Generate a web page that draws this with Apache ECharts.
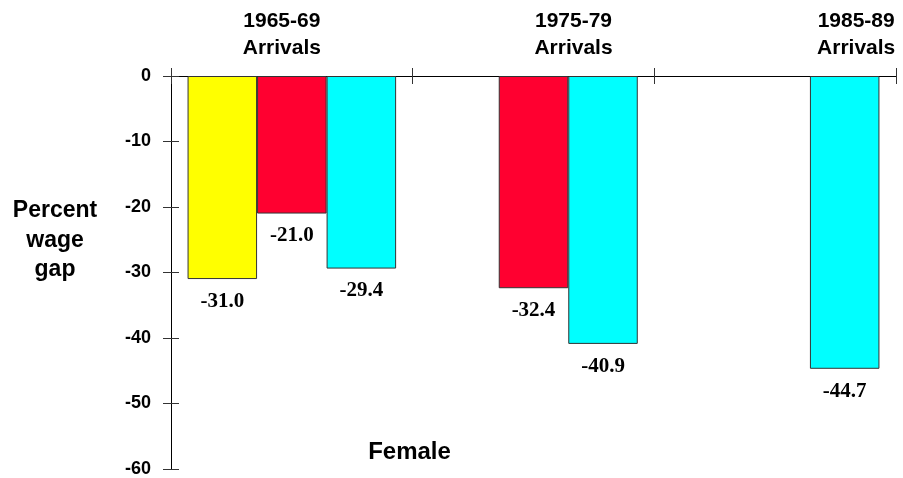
<!DOCTYPE html>
<html>
<head>
<meta charset="utf-8">
<script src="https://cdn.jsdelivr.net/npm/echarts@6/dist/echarts.min.js"></script>
<style>
html,body{margin:0;padding:0;background:#fff;}
#chart{width:903px;height:478px;}
</style>
</head>
<body>
<div id="chart"></div>
<script>
const categories = ['1965-69\nArrivals', '1975-79\nArrivals', '1985-89\nArrivals'];
const seriesNames = ['Series 1', 'Series 2', 'Series 3'];
const yellowValues = [-31.0, null, null];
const redValues = [-21.0, -32.4, null];
const cyanValues = [-29.4, -40.9, -44.7];
const yTicks = [0, -10, -20, -30, -40, -50, -60];
const yAxisTitle = 'Percent\nwage\ngap';
const panelTitle = 'Female';

const colors = ['#FFFF00', '#FF0030', '#00FFFF'];
const sans = 'Liberation Sans, Arial, sans-serif';
const serif = 'Liberation Serif, Times New Roman, serif';
const labelShift = ['r', 'p', 'q'];

const gridRect = {left: 171, right: 7, top: 76, bottom: 9, containLabel: false};

const chart = echarts.init(document.getElementById('chart'), null, {renderer: 'canvas'});

function barSeries(name, data, color) {
  return {
    name: name,
    type: 'bar',
    xAxisIndex: 0,
    yAxisIndex: 0,
    data: data,
    barGap: '0%',
    barCategoryGap: '13.7%',
    itemStyle: {color: color, borderColor: '#333', borderWidth: 1},
    label: {
      show: true,
      position: 'bottom',
      distance: 12,
      fontFamily: serif,
      fontWeight: 'bold',
      fontSize: 21,
      color: '#000',
      formatter: p => p.value == null ? '' : Number(p.value).toFixed(1)
    },
    emphasis: {disabled: true},
    animation: false
  };
}

const richBase = {fontFamily: sans, fontWeight: 'bold', fontSize: 21, lineHeight: 27, color: '#000'};

chart.setOption({
  animation: false,
  backgroundColor: '#fff',
  grid: [Object.assign({}, gridRect), Object.assign({}, gridRect)],
  xAxis: [{
    type: 'category',
    gridIndex: 0,
    data: categories,
    position: 'top',
    axisLine: {show: true, onZero: false, lineStyle: {color: '#000', width: 1}},
    axisTick: {show: true, length: 8, lineStyle: {color: '#333'}},
    axisLabel: {
      show: true,
      margin: 14,
      fontFamily: sans,
      fontWeight: 'bold',
      fontSize: 21,
      lineHeight: 27,
      color: '#000',
      formatter: (v, i) => v.split('\n').map(s => '{' + labelShift[i] + '|' + s + '}').join('\n'),
      rich: {
        r: Object.assign({}, richBase, {padding: [0, 20, 0, 0]}),
        p: Object.assign({}, richBase, {padding: [0, 0, 0, 80]}),
        q: Object.assign({}, richBase, {padding: [0, 0, 0, 162]})
      }
    },
    splitLine: {show: false}
  }, {
    type: 'category',
    gridIndex: 1,
    data: categories,
    position: 'top',
    axisLine: {show: false, onZero: false},
    axisTick: {show: true, inside: true, length: 8, lineStyle: {color: '#333'}},
    axisLabel: {show: false},
    splitLine: {show: false}
  }],
  yAxis: [{
    type: 'value',
    gridIndex: 0,
    min: -60,
    max: 0,
    interval: 10,
    position: 'left',
    axisLine: {show: true, lineStyle: {color: '#000', width: 1}},
    axisTick: {show: true, length: 8, lineStyle: {color: '#333'}},
    axisLabel: {
      margin: 20,
      fontFamily: sans,
      fontWeight: 'bold',
      fontSize: 18,
      color: '#000',
      formatter: v => yTicks.indexOf(v) >= 0 ? String(v) : ''
    },
    splitLine: {show: false}
  }, {
    type: 'value',
    gridIndex: 1,
    min: -60,
    max: 0,
    interval: 10,
    position: 'left',
    axisLine: {show: false},
    axisTick: {show: true, inside: true, length: 8, lineStyle: {color: '#333'}},
    axisLabel: {show: false},
    splitLine: {show: false}
  }],
  graphic: [{
    type: 'text',
    x: 55,
    y: 196,
    style: {
      text: yAxisTitle,
      textAlign: 'center',
      textVerticalAlign: 'top',
      fontFamily: sans,
      fontWeight: 'bold',
      fontSize: 23,
      lineHeight: 29.5,
      fill: '#000'
    }
  }, {
    type: 'text',
    x: 409.5,
    y: 452.5,
    style: {
      text: panelTitle,
      textAlign: 'center',
      textVerticalAlign: 'middle',
      fontFamily: sans,
      fontWeight: 'bold',
      fontSize: 24,
      fill: '#000'
    }
  }],
  series: [
    barSeries(seriesNames[0], yellowValues, colors[0]),
    barSeries(seriesNames[1], redValues, colors[1]),
    barSeries(seriesNames[2], cyanValues, colors[2])
  ]
});
</script>
</body>
</html>
